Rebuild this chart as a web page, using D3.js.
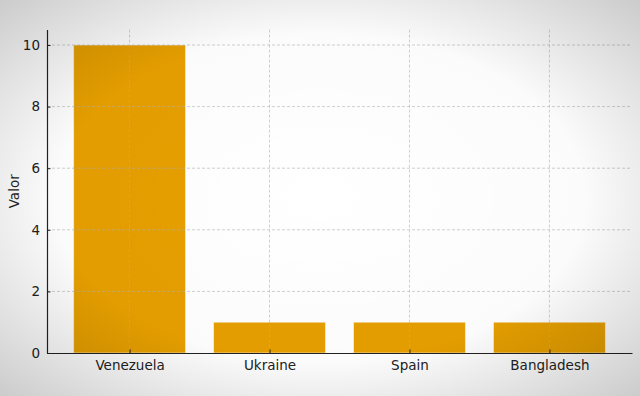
<!DOCTYPE html>
<html><head><meta charset="utf-8">
<script src="https://cdn.jsdelivr.net/npm/d3@7"></script>
<style>html,body{margin:0;padding:0;background:#fff;}svg{display:block;}</style>
</head><body>
<script>
const categories = ["Venezuela", "Ukraine", "Spain", "Bangladesh"];
const values = [10, 1, 1, 1];
const yTicks = [0, 2, 4, 6, 8, 10];
const yLabel = "Valor";

const W = 640, H = 396;
const svg = d3.select("body").append("svg").attr("width", W).attr("height", H);
const defs = svg.append("defs");
const bg = defs.append("radialGradient").attr("id", "bg").attr("cx", "50%").attr("cy", "50%").attr("r", "75%");
bg.append("stop").attr("offset", "0%").attr("stop-color", "#ffffff");
bg.append("stop").attr("offset", "55%").attr("stop-color", "#fbfbfb");
bg.append("stop").attr("offset", "100%").attr("stop-color", "#c4c4c4");
const vg = defs.append("radialGradient").attr("id", "vg").attr("cx", "50%").attr("cy", "50%").attr("r", "75%");
vg.append("stop").attr("offset", "0%").attr("stop-color", "#000").attr("stop-opacity", 0);
vg.append("stop").attr("offset", "55%").attr("stop-color", "#000").attr("stop-opacity", 0.015);
vg.append("stop").attr("offset", "100%").attr("stop-color", "#000").attr("stop-opacity", 0.23);

svg.append("rect").attr("width", W).attr("height", H).attr("fill", "#ffffff");

const x0 = 47, x1 = 632, yTop = 29.6, yBot = 353;
const x = d3.scaleLinear().domain([-0.59, categories.length - 1 + 0.59]).range([x0, x1]);
const y = d3.scaleLinear().domain([0, 10.5]).range([yBot, yTop]);
const bw = 0.8;

const g = svg.append("g");
// bars
g.selectAll("rect.bar").data(values).join("rect")
  .attr("class", "bar")
  .attr("x", (d, i) => x(i - bw / 2))
  .attr("width", (d, i) => x(i + bw / 2) - x(i - bw / 2))
  .attr("y", d => y(d))
  .attr("height", d => y(0) - y(d))
  .attr("fill", "#E69F00")
  .attr("stroke", "rgba(255,255,255,0.55)")
  .attr("stroke-width", 1);

// grid
const grid = g.append("g").attr("stroke", "#b0b0b0").attr("stroke-opacity", 0.75).attr("stroke-dasharray", "3,2").attr("stroke-width", 0.8);
yTicks.forEach(t => {
  if (t === 0) return;
  grid.append("line").attr("x1", x0).attr("x2", x1).attr("y1", y(t)).attr("y2", y(t));
});
categories.forEach((c, i) => {
  grid.append("line").attr("x1", x(i)).attr("x2", x(i)).attr("y1", yTop).attr("y2", yBot);
});

// axes
const xAxis = d3.axisBottom(x).tickValues(d3.range(categories.length)).tickFormat(i => categories[i]).tickSizeInner(-3.5).tickSizeOuter(0).tickPadding(7);
const gx = svg.append("g").attr("transform", `translate(0,${yBot})`).call(xAxis);
gx.select(".domain").attr("stroke", "#222").attr("stroke-width", 1.2);
gx.selectAll(".tick line").attr("stroke", "#222");
gx.selectAll("text").attr("font-family", "DejaVu Sans").attr("font-size", 13.5).attr("fill", "#222");

const yAxis = d3.axisLeft(y).tickValues(yTicks).tickSizeInner(-3.5).tickSizeOuter(0).tickPadding(7);
const gy = svg.append("g").attr("transform", `translate(${x0},0)`).call(yAxis);
gy.select(".domain").attr("stroke", "#222").attr("stroke-width", 1.2);
gy.selectAll(".tick line").attr("stroke", "#222");
gy.selectAll("text").attr("font-family", "DejaVu Sans").attr("font-size", 13.5).attr("fill", "#222");

svg.append("text").attr("transform", `translate(19,${(yTop + yBot) / 2}) rotate(-90)`)
  .attr("text-anchor", "middle").attr("font-family", "DejaVu Sans").attr("font-size", 13.5).attr("fill", "#222").text(yLabel);

// vignette overlay
svg.append("rect").attr("width", W).attr("height", H).attr("fill", "url(#vg)").attr("pointer-events", "none");
</script>
</body></html>
